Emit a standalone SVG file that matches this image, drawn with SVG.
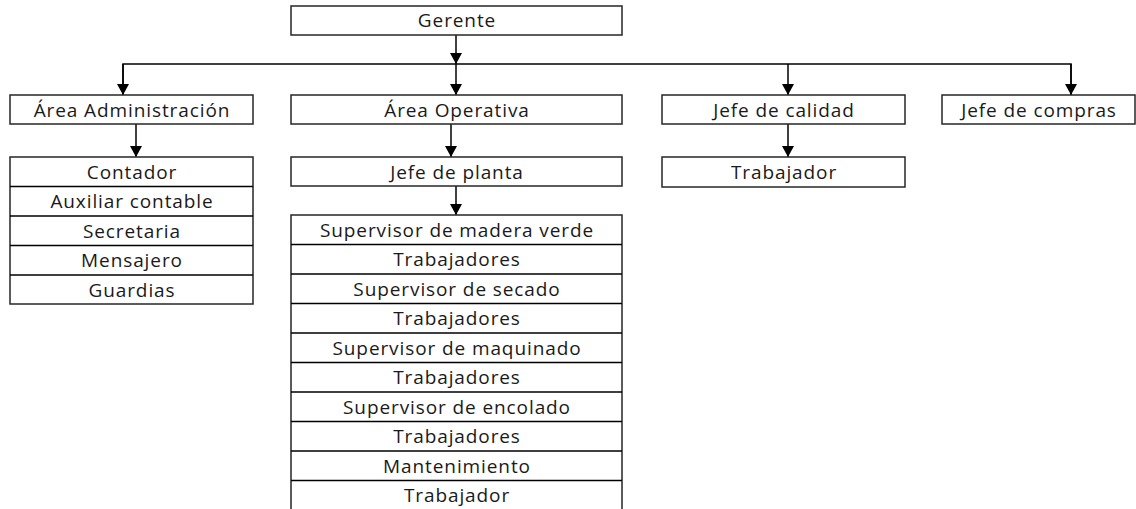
<svg xmlns="http://www.w3.org/2000/svg" width="1136" height="509" viewBox="0 0 1136 509">
<style>
.b{fill:#fff;stroke:#262626;stroke-width:1.5}
.t{font-family:"Open Sans","Liberation Sans",sans-serif;font-size:19px;letter-spacing:0.9px;fill:#1a1a1a;text-anchor:middle}
.c{fill:none;stroke:#000;stroke-width:1.5}
</style>
<defs>
<marker id="ah" markerUnits="userSpaceOnUse" markerWidth="12" markerHeight="12" refX="11" refY="6" orient="auto">
<path d="M0,0 L11,6 L0,12 z" fill="#000"/>
</marker>
</defs>
<rect width="1136" height="509" fill="#fff"/>
<g id="connectors">
<path class="c" d="M456,35 V64" marker-end="url(#ah)"/>
<path class="c" d="M123,95 V64 H1071 V95"/>
<path class="c" d="M123,64 V95" marker-end="url(#ah)"/>
<path class="c" d="M456,64 V95" marker-end="url(#ah)"/>
<path class="c" d="M788,64 V95" marker-end="url(#ah)"/>
<path class="c" d="M1071,64 V95" marker-end="url(#ah)"/>
<path class="c" d="M136,124 V157" marker-end="url(#ah)"/>
<path class="c" d="M451,124 V157" marker-end="url(#ah)"/>
<path class="c" d="M788,124 V157" marker-end="url(#ah)"/>
<path class="c" d="M456,186 V215" marker-end="url(#ah)"/>
</g>
<g id="gerente"><rect class="b" x="291" y="6" width="331" height="29"/><text class="t" x="457" y="27">Gerente</text></g>
<g id="area-admin"><rect class="b" x="10" y="95" width="243" height="29"/><text class="t" x="132" y="116.5">Área Administración</text></g>
<g id="area-operativa"><rect class="b" x="291" y="95" width="331" height="29"/><text class="t" x="457" y="116.5">Área Operativa</text></g>
<g id="jefe-calidad"><rect class="b" x="662" y="95" width="243" height="29"/><text class="t" x="784" y="116.5">Jefe de calidad</text></g>
<g id="jefe-compras"><rect class="b" x="942" y="95" width="193" height="29"/><text class="t" x="1039" y="116.5">Jefe de compras</text></g>
<g id="admin-staff">
<rect class="b" x="10" y="157" width="243" height="147"/>
<path class="c" d="M10,186.5 H253 M10,216 H253 M10,245.5 H253 M10,275 H253" stroke="#262626"/>
<text class="t" x="132" y="178.5">Contador</text>
<text class="t" x="132" y="208">Auxiliar contable</text>
<text class="t" x="132" y="237.5">Secretaria</text>
<text class="t" x="132" y="267">Mensajero</text>
<text class="t" x="132" y="296.5">Guardias</text>
</g>
<g id="jefe-planta"><rect class="b" x="291" y="157" width="331" height="29"/><text class="t" x="457" y="178.5">Jefe de planta</text></g>
<g id="trabajador-calidad"><rect class="b" x="662" y="157" width="243" height="30"/><text class="t" x="784" y="179">Trabajador</text></g>
<g id="operativa-staff">
<rect class="b" x="291" y="215" width="331" height="300"/>
<path class="c" d="M291,244.5 H622 M291,274 H622 M291,303.5 H622 M291,333 H622 M291,362.5 H622 M291,392 H622 M291,421.5 H622 M291,451 H622 M291,480.5 H622"/>
<text class="t" x="457" y="236.5">Supervisor de madera verde</text>
<text class="t" x="457" y="266">Trabajadores</text>
<text class="t" x="457" y="295.5">Supervisor de secado</text>
<text class="t" x="457" y="325">Trabajadores</text>
<text class="t" x="457" y="354.5">Supervisor de maquinado</text>
<text class="t" x="457" y="384">Trabajadores</text>
<text class="t" x="457" y="413.5">Supervisor de encolado</text>
<text class="t" x="457" y="443">Trabajadores</text>
<text class="t" x="457" y="472.5">Mantenimiento</text>
<text class="t" x="457" y="502">Trabajador</text>
</g>
</svg>
